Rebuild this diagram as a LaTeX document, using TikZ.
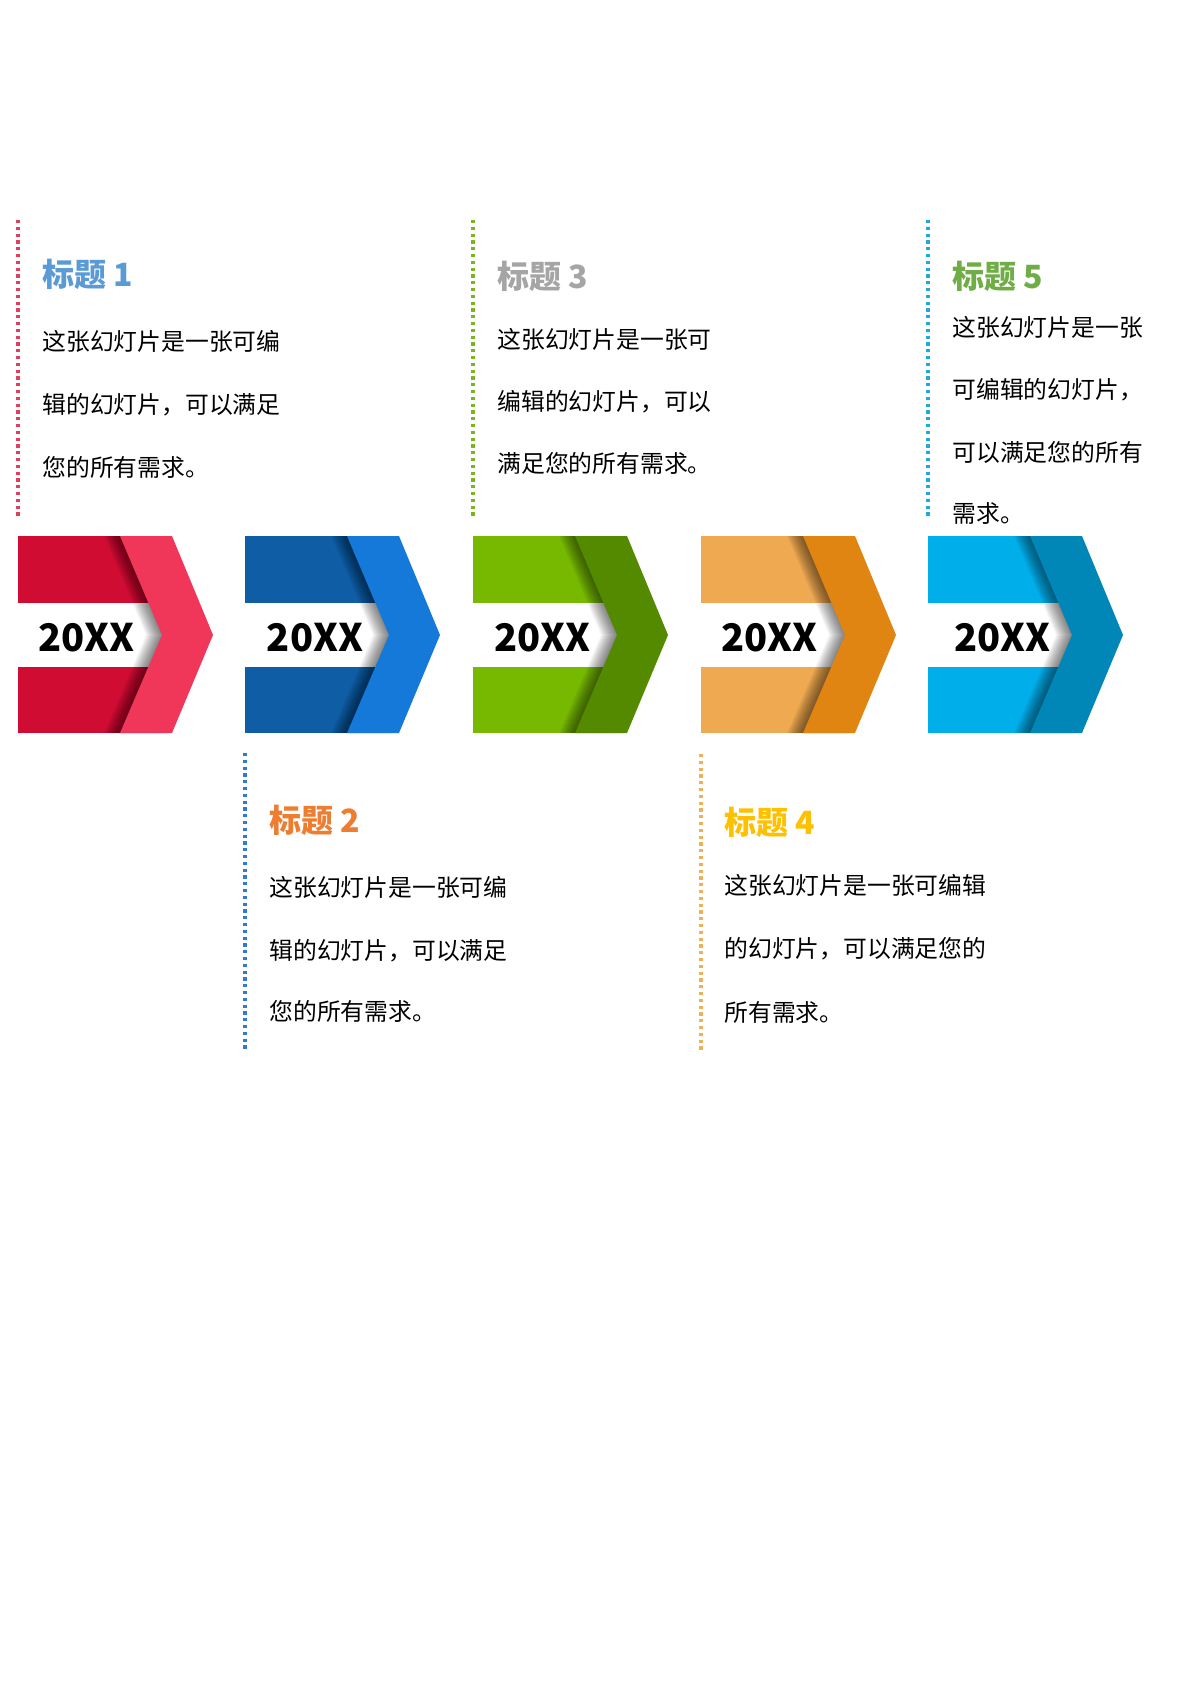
\documentclass[tikz,border=0pt]{standalone}
\usepackage{fontspec}
\setmainfont{Noto Sans CJK SC}
\definecolor{rA}{HTML}{D00C33}\definecolor{cA}{HTML}{F0375A}
\definecolor{rB}{HTML}{0F5DA5}\definecolor{cB}{HTML}{1479D8}
\definecolor{rC}{HTML}{76B900}\definecolor{cC}{HTML}{548A00}
\definecolor{rD}{HTML}{EEA951}\definecolor{cD}{HTML}{E08412}
\definecolor{rE}{HTML}{00AEEA}\definecolor{cE}{HTML}{0186B8}
\definecolor{dA}{HTML}{E0405E}\definecolor{dB}{HTML}{2E7BCF}
\definecolor{dC}{HTML}{7AB51D}\definecolor{dD}{HTML}{EFB05A}
\definecolor{dE}{HTML}{1EAADF}
\definecolor{tA}{HTML}{5B9BD5}\definecolor{tB}{HTML}{ED7D31}
\definecolor{tC}{HTML}{A5A5A5}\definecolor{tD}{HTML}{FFC000}
\definecolor{tE}{HTML}{70AD47}
\newcommand\tlArrow[5]{%
  \begin{scope}[shift={(#1,0)}]
    \fill[#2] (0,536) rectangle (140,733);
    \fill[white] (0,603) rectangle (146,667);
    \begin{scope}
      \clip (0,536) rectangle (150,733);
      \foreach \i in {1,...,16}{
        \fill[black, opacity=0.035, shift={(-\i,0)}] (102,536) -- (154,536) -- (195,635) -- (154,733) -- (102,733) -- (144,635) -- cycle;
      }
    \end{scope}
    \fill[#3] (102,536) -- (154,536) -- (195,635) -- (154,733) -- (102,733) -- (144,635) -- cycle;
    \node[yr] (#5) at (#4,638) {20XX};
  \end{scope}
}
\begin{document}
\begin{tikzpicture}[x=0.5pt,y=-0.5pt]
\tikzset{
  guide/.style={line width=1.6pt, dash pattern=on 1.6pt off 1.8pt},
  ttl/.style={anchor=base west, inner sep=0pt, font=\fontsize{16}{19}\selectfont\bfseries},
  body/.style={anchor=base west, inner sep=0pt, font=\fontsize{11.9}{14}\selectfont, text=black},
  yr/.style={inner sep=0pt, font=\fontsize{19}{23}\selectfont\bfseries, text=black},
}
\useasboundingbox[fill=white] (0,0) rectangle (1191,1684);

% arrows
\tlArrow{18}{rA}{cA}{68.5}{y1}
\tlArrow{245}{rB}{cB}{70}{y2}
\tlArrow{473}{rC}{cC}{69.5}{y3}
\tlArrow{701}{rD}{cD}{68.5}{y4}
\tlArrow{928}{rE}{cE}{74.5}{y5}

% guide lines
\draw[guide, dA] (18,220) -- (18,516);
\draw[guide, dB] (245,753) -- (245,1050);
\draw[guide, dC] (473,220) -- (473,516);
\draw[guide, dD] (701,754) -- (701,1050);
\draw[guide, dE] (928,220) -- (928,516);

% column 1
\node[ttl, text=tA] (h1) at (42,287) {标题 1};
\node[body] (a1) at (42,351) {这张幻灯片是一张可编};
\node[body] (b1) at (42,414) {辑的幻灯片，可以满足};
\node[body] (c1) at (42,476) {您的所有需求。};

% column 2
\node[ttl, text=tB] (h2) at (269,832) {标题 2};
\node[body] (a2) at (269,896) {这张幻灯片是一张可编};
\node[body] (b2) at (269,959) {辑的幻灯片，可以满足};
\node[body] (c2) at (269,1020) {您的所有需求。};

% column 3
\node[ttl, text=tC] (h3) at (497,289) {标题 3};
\node[body] (a3) at (497,349) {这张幻灯片是一张可};
\node[body] (b3) at (497,411) {编辑的幻灯片，可以};
\node[body] (c3) at (497,473) {满足您的所有需求。};

% column 4
\node[ttl, text=tD] (h4) at (724,834) {标题 4};
\node[body] (a4) at (724,894) {这张幻灯片是一张可编辑};
\node[body] (b4) at (724,957) {的幻灯片，可以满足您的};
\node[body] (c4) at (724,1021) {所有需求。};

% column 5
\node[ttl, text=tE] (h5) at (952,289) {标题 5};
\node[body] (a5) at (952,337) {这张幻灯片是一张};
\node[body] (b5) at (952,399) {可编辑的幻灯片，};
\node[body] (c5) at (952,461) {可以满足您的所有};
\node[body] (d5) at (952,522) {需求。};
\end{tikzpicture}
\end{document}
